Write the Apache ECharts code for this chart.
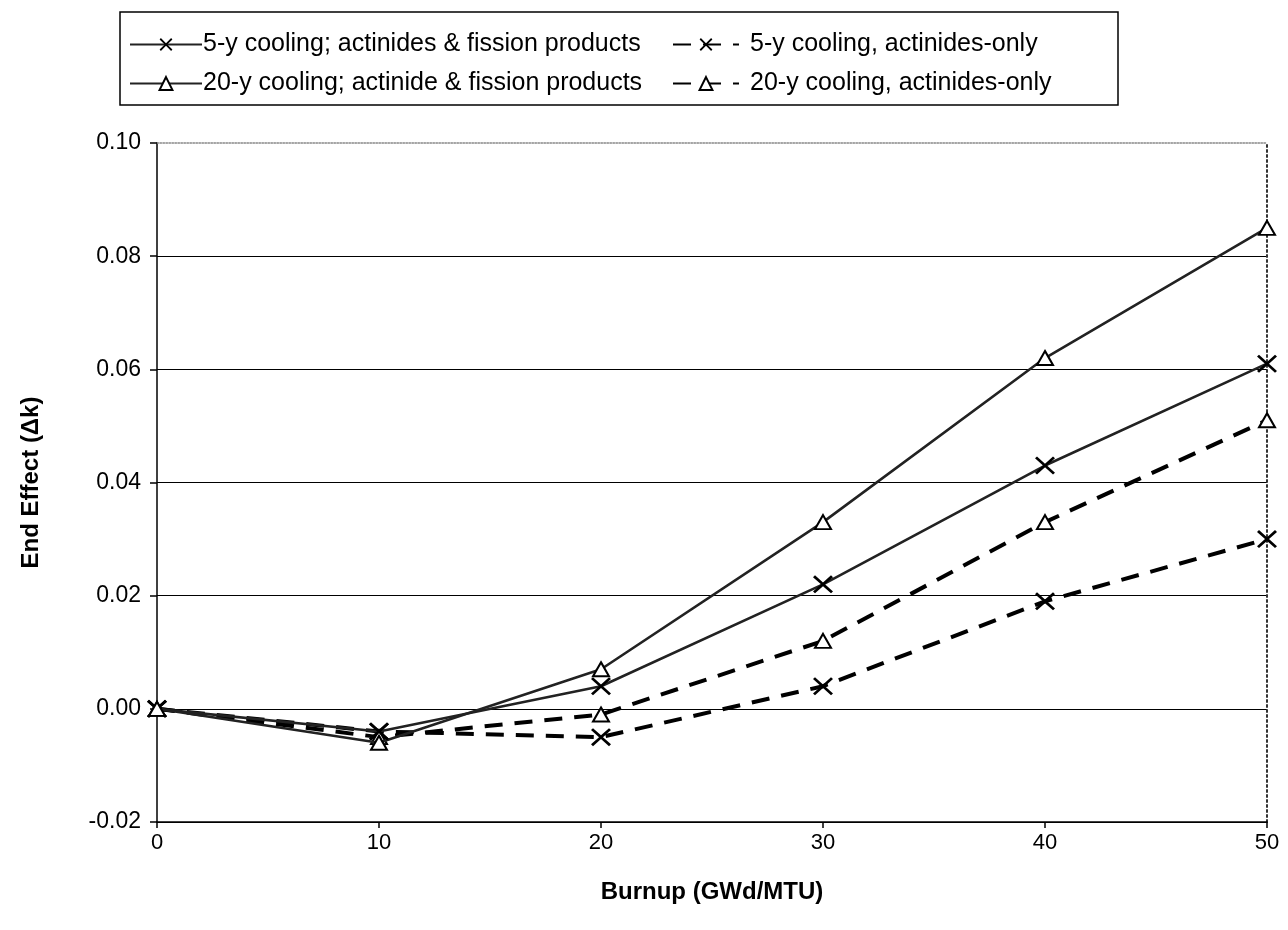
<!DOCTYPE html>
<html>
<head>
<meta charset="utf-8">
<script src="https://cdn.jsdelivr.net/npm/echarts@6/dist/echarts.min.js"></script>
<style>
  html, body { margin: 0; padding: 0; background: #fff; }
  #chart { width: 1288px; height: 930px; }
</style>
</head>
<body>
<div id="chart"></div>
<script>
// burnup (GWd/MTU)
const burnup = [0, 10, 20, 30, 40, 50];
// end effect (delta k)
const cool5AllValues = [0, -0.004, 0.004, 0.022, 0.043, 0.061];
const cool20AllValues = [0, -0.006, 0.007, 0.033, 0.062, 0.085];
const cool5ActValues = [0, -0.004, -0.005, 0.004, 0.019, 0.030];
const cool20ActValues = [0, -0.005, -0.001, 0.012, 0.033, 0.051];
const seriesNames = [
    '5-y cooling; actinides & fission products',
    '20-y cooling; actinide & fission products',
    '5-y cooling, actinides-only',
    '20-y cooling, actinides-only'
];

const crossSymbol = 'path://M0,1L1,0L5,4L9,0L10,1L6,5L10,9L9,10L5,6L1,10L0,9L4,5Z';
const font = 'Liberation Sans, Arial, sans-serif';

function pairs(vals) {
    return burnup.map((b, i) => [b, vals[i]]);
}

//  一条曲线
function makeSeries(name, vals, dashed, tri) {
    return {
        name: name,
        type: 'line',
        data: pairs(vals),
        symbol: tri ? 'triangle' : crossSymbol,
        symbolSize: tri ? [16, 14] : [20, 18],
        showAllSymbol: true,
        lineStyle: {
            color: dashed ? '#000' : '#222',
            width: dashed ? 4 : 2.6,
            type: dashed ? [18, 12] : 'solid'
        },
        itemStyle: {
            color: tri ? '#fff' : '#000',
            borderColor: '#000',
            borderWidth: tri ? 2 : 0
        },
        z: dashed ? 3 : 4
    };
}

const chart = echarts.init(document.getElementById('chart'));
chart.setOption({
    animation: false,
    backgroundColor: '#fff',
    grid: { left: 157, right: 21, top: 143, bottom: 108 },
    legend: [
        {
            data: [seriesNames[0], seriesNames[1]],
            orient: 'vertical',
            left: 124, top: 27,
            itemWidth: 72, itemHeight: 16, itemGap: 14,
            textStyle: { fontFamily: font, fontSize: 25, color: '#000', padding: [0, 0, 0, -4] },
            selectedMode: false
        },
        {
            data: [seriesNames[2], seriesNames[3]],
            orient: 'vertical',
            left: 667, top: 27,
            itemWidth: 66, itemHeight: 16, itemGap: 14,
            textStyle: { fontFamily: font, fontSize: 25, color: '#000', padding: [0, 0, 0, 6] },
            selectedMode: false
        }
    ],
    graphic: [
        {
            type: 'rect',
            shape: { x: 120, y: 12, width: 998, height: 93 },
            style: { fill: 'none', stroke: '#000', lineWidth: 1.5 }
        }
    ],
    xAxis: [
        {
            type: 'value',
            min: 0, max: 50, interval: 10,
            name: 'Burnup (GWd/MTU)',
            nameLocation: 'middle',
            nameGap: 58,
            nameTextStyle: { fontFamily: font, fontSize: 24, fontWeight: 'bold', color: '#000' },
            axisLine: { onZero: false, lineStyle: { color: '#000', width: 1.5 } },
            axisTick: { show: true, length: 6, lineStyle: { color: '#000', width: 1.5 } },
            axisLabel: { fontFamily: font, fontSize: 22, color: '#000', margin: 10 },
            splitLine: { show: false }
        },
        {
            type: 'value',
            position: 'top',
            min: 0, max: 50,
            axisLine: { show: true, onZero: false, lineStyle: { color: '#888', width: 1.5, type: 'dotted' } },
            axisTick: { show: false },
            axisLabel: { show: false },
            splitLine: { show: false }
        }
    ],
    yAxis: [
        {
            type: 'value',
            min: -0.02, max: 0.10, interval: 0.02,
            name: 'End Effect (\u0394k)',
            nameLocation: 'middle',
            nameGap: 114,
            nameTextStyle: { fontFamily: font, fontSize: 24, fontWeight: 'bold', color: '#000' },
            axisLine: { show: true, onZero: false, lineStyle: { color: '#000', width: 1.5 } },
            axisTick: { show: true, length: 7, lineStyle: { color: '#000', width: 1.5 } },
            axisLabel: {
                fontFamily: font, fontSize: 23, color: '#000', margin: 16,
                formatter: v => v.toFixed(2)
            },
            splitLine: { show: true, showMaxLine: false, lineStyle: { color: '#000', width: 1.2 } }
        },
        {
            type: 'value',
            position: 'right',
            min: -0.02, max: 0.10,
            axisLine: { show: true, onZero: false, lineStyle: { color: '#333', width: 2, type: [2, 3] } },
            axisTick: { show: false },
            axisLabel: { show: false },
            splitLine: { show: false }
        }
    ],
    series: [
        makeSeries(seriesNames[0], cool5AllValues, false, false),
        makeSeries(seriesNames[1], cool20AllValues, false, true),
        makeSeries(seriesNames[2], cool5ActValues, true, false),
        makeSeries(seriesNames[3], cool20ActValues, true, true)
    ]
});
</script>
</body>
</html>
